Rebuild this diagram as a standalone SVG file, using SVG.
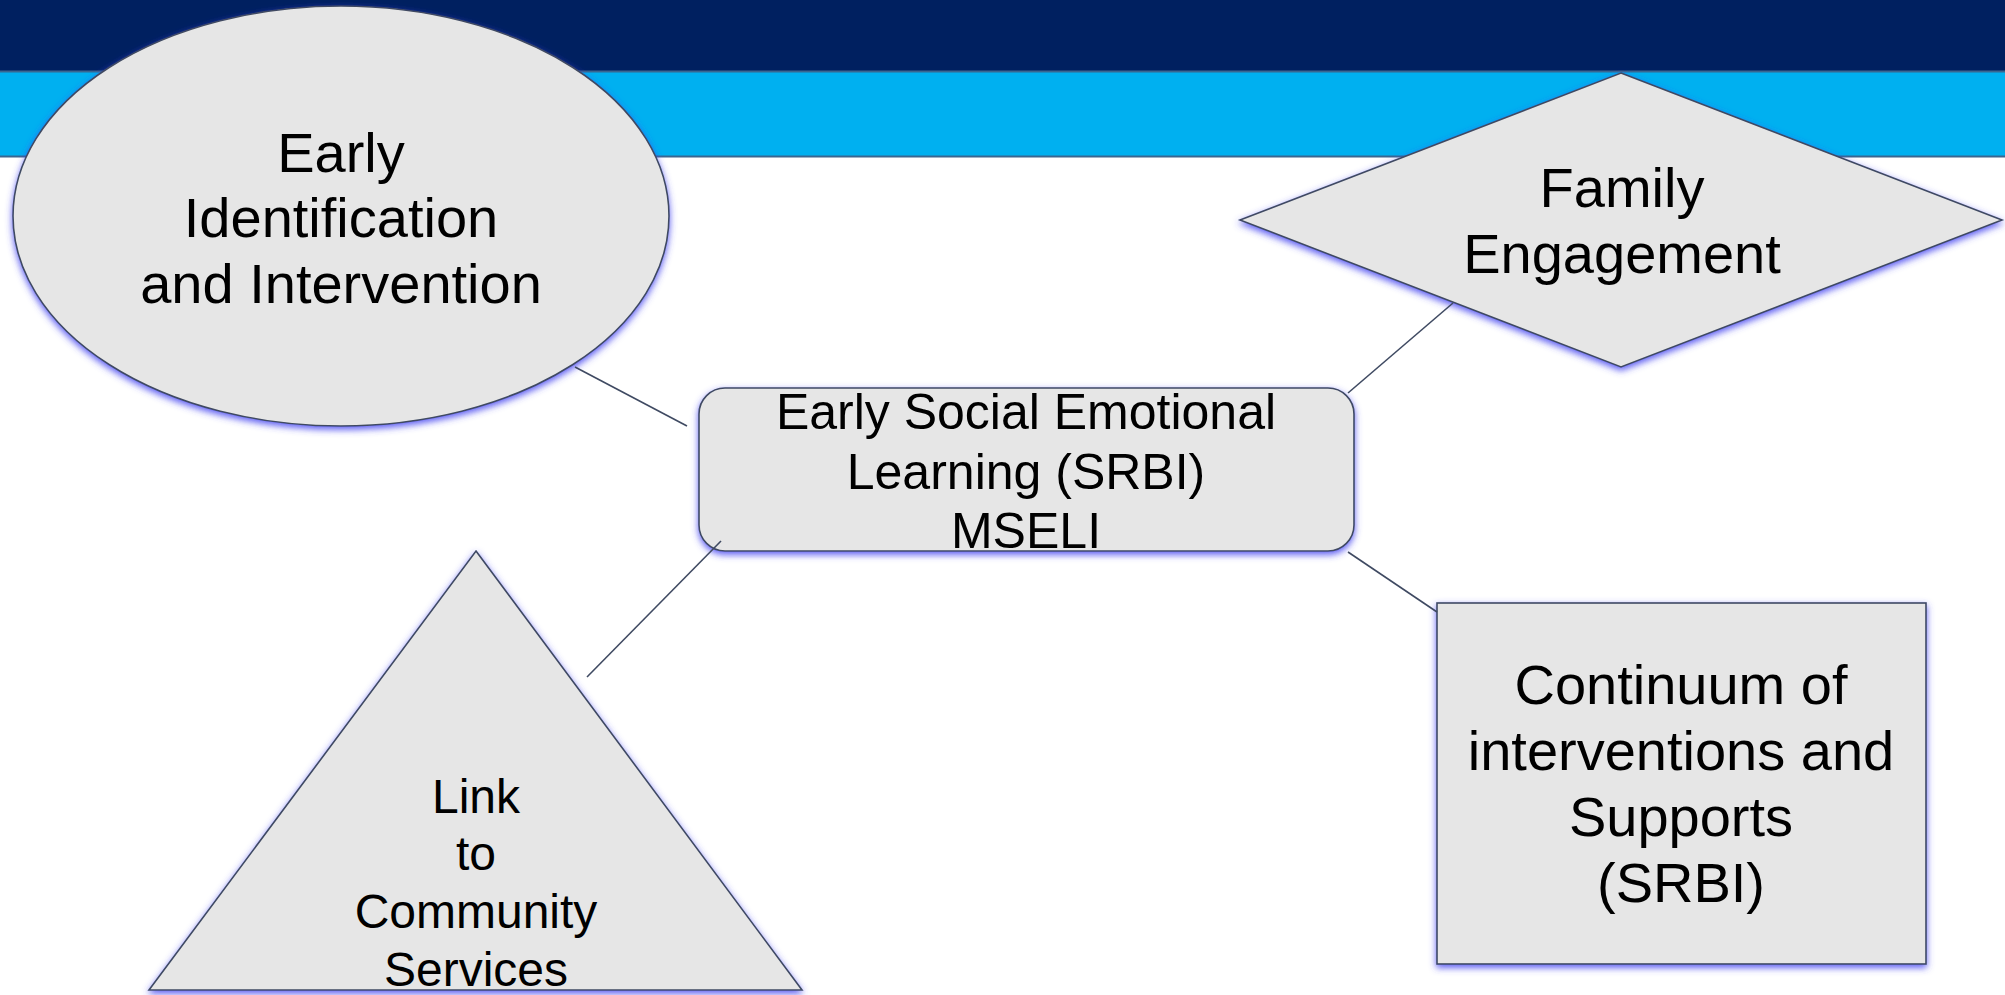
<svg xmlns="http://www.w3.org/2000/svg" width="2005" height="995" viewBox="0 0 2005 995">
<style>
.shape{fill:#E6E6E6;stroke:#3F4A62;stroke-width:1.6;filter:url(#glow)}
.lbl{font-family:"Liberation Sans",Arial,sans-serif;fill:#000;text-anchor:middle}
.conn{stroke:#3F4A62;stroke-width:1.6;fill:none}
</style>
<defs>
<filter id="glow" x="-10%" y="-10%" width="120%" height="125%">
<feDropShadow dx="0" dy="3" stdDeviation="3.5" flood-color="#4040F0" flood-opacity="0.85"/>
</filter>
</defs>
<rect width="2005" height="995" fill="#FFFFFF"/>
<g id="header">
<rect x="0" y="0" width="2005" height="72" fill="#002060"/>
<rect x="0" y="72" width="2005" height="84" fill="#00B0F0"/>
<line x1="0" y1="71.5" x2="2005" y2="71.5" stroke="#3A6690" stroke-width="2"/>
<line x1="0" y1="156.5" x2="2005" y2="156.5" stroke="#3A6690" stroke-width="2"/>
</g>
<g id="node-early-identification">
<ellipse class="shape" cx="341" cy="216" rx="328" ry="210"/>
<text class="lbl" font-size="56"><tspan x="341" y="172">Early</tspan><tspan x="341" y="237">Identification</tspan><tspan x="341" y="303">and Intervention</tspan></text>
</g>
<g id="node-family-engagement">
<polygon class="shape" points="1621,73 2002,220 1621,367 1240,220"/>
<text class="lbl" font-size="56"><tspan x="1622" y="207">Family</tspan><tspan x="1622" y="273">Engagement</tspan></text>
</g>
<g id="node-center">
<rect class="shape" x="699" y="388" width="655" height="163" rx="26" ry="26"/>
<text class="lbl" font-size="50"><tspan x="1026" y="429">Early Social Emotional</tspan><tspan x="1026" y="489">Learning (SRBI)</tspan><tspan x="1026" y="548">MSELI</tspan></text>
</g>
<g id="node-community">
<polygon class="shape" points="476,551 802,990 149,990"/>
<text class="lbl" font-size="48"><tspan x="476" y="813">Link</tspan><tspan x="476" y="870">to</tspan><tspan x="476" y="928">Community</tspan><tspan x="476" y="986">Services</tspan></text>
</g>
<g id="node-continuum">
<rect class="shape" x="1437" y="603" width="489" height="361"/>
<text class="lbl" font-size="56"><tspan x="1681" y="704">Continuum of</tspan><tspan x="1681" y="770">interventions and</tspan><tspan x="1681" y="836">Supports</tspan><tspan x="1681" y="902">(SRBI)</tspan></text>
</g>
<g id="connectors">
<line class="conn" x1="575" y1="367" x2="687" y2="426"/>
<line class="conn" x1="1453" y1="303" x2="1348" y2="393"/>
<line class="conn" x1="721" y1="541" x2="587" y2="677"/>
<line class="conn" x1="1348" y1="552" x2="1437" y2="612"/>
</g>
</svg>
